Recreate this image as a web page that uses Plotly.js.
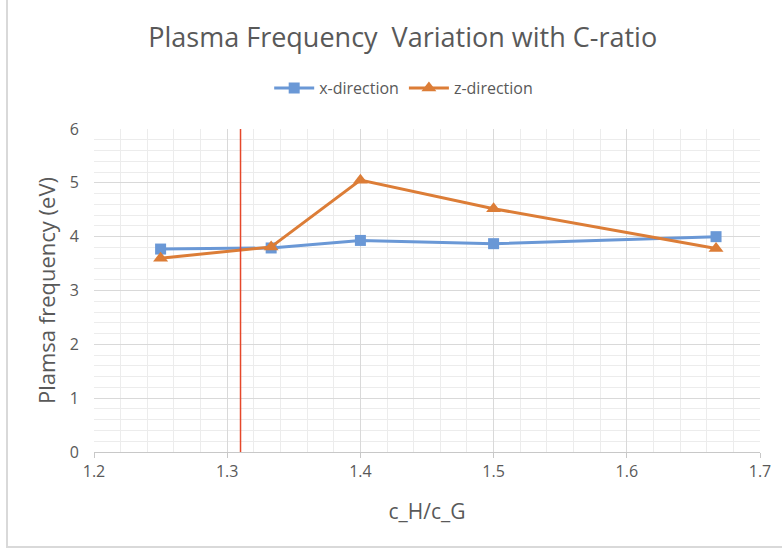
<!DOCTYPE html>
<html>
<head>
<meta charset="utf-8">
<script src="https://cdn.plot.ly/plotly-3.0.1.min.js"></script>
<style>
html,body{margin:0;padding:0;background:#fff;}
#frame{position:absolute;left:6px;top:-4px;width:790px;height:552px;border:2px solid #d9d9d9;box-sizing:border-box;pointer-events:none;z-index:5;}
#chart{position:absolute;left:0;top:0;width:782px;height:550px;}
</style>
</head>
<body>
<div id="chart"></div>
<div id="frame"></div>
<script>
const ratios = [1.25, 1.333, 1.4, 1.5, 1.667];
const xDirection = [3.77, 3.79, 3.93, 3.87, 4.0];
const zDirection = [3.6, 3.81, 5.05, 4.52, 3.78];
const markerX = [1.31, 1.31];
const markerY = [0, 6.1];
const xTicks = [1.2, 1.3, 1.4, 1.5, 1.6, 1.7];
const yTicks = [0, 1, 2, 3, 4, 5, 6];

const grey = '#595959';
const font = 'Open Sans, sans-serif';
const data = [
  {x: ratios, y: xDirection, name: 'x-direction', type: 'scatter', mode: 'lines+markers',
   line: {color: '#6A98D6', width: 3}, marker: {symbol: 'square', size: 11, color: '#6A98D6'}},
  {x: ratios, y: zDirection, name: 'z-direction', type: 'scatter', mode: 'lines+markers',
   line: {color: '#DC7D37', width: 3}, marker: {symbol: 'triangle-up', size: 13, color: '#DC7D37'}},
  {x: markerX, y: markerY, type: 'scatter', mode: 'lines', showlegend: false, hoverinfo: 'skip',
   line: {color: '#E5472A', width: 1.5}, cliponaxis: false}
];
const layout = {
  width: 782, height: 550,
  margin: {l: 94, r: 22, t: 129, b: 98},
  paper_bgcolor: '#fff', plot_bgcolor: '#fff',
  title: {text: 'Plasma Frequency  Variation with C-ratio', x: 0.515, xanchor: 'center', y: 0.932, yanchor: 'middle',
          font: {family: font, size: 27, color: grey}},
  showlegend: true,
  legend: {orientation: 'h', x: 0.465, xanchor: 'center', y: 1.127, yanchor: 'middle',
           font: {family: font, size: 16, color: grey}, itemwidth: 40},
  xaxis: {range: [1.2, 1.7], tickvals: xTicks, ticktext: xTicks.map(v => v.toFixed(1)),
          showgrid: true, gridcolor: '#d9d9d9', gridwidth: 1,
          minor: {dtick: 0.02, showgrid: true, gridcolor: '#ececec', gridwidth: 1, ticks: ''},
          showline: true, linecolor: '#c8c8c8', linewidth: 1, ticks: 'outside', ticklen: 5, tickcolor: '#c8c8c8',
          zeroline: false, tickfont: {family: font, size: 16, color: grey},
          title: {text: 'c_H/c_G', font: {family: font, size: 21, color: grey}, standoff: 23}},
  yaxis: {range: [0, 6], tickvals: yTicks, showgrid: true, gridcolor: '#d9d9d9', gridwidth: 1,
          minor: {dtick: 0.2, showgrid: true, gridcolor: '#ececec', gridwidth: 1, ticks: ''},
          showline: false, zeroline: false, ticks: '', ticklabelstandoff: 14,
          tickfont: {family: font, size: 16, color: grey},
          title: {text: 'Plamsa frequency (eV)', font: {family: font, size: 22, color: grey}, standoff: 8}}
};
Plotly.newPlot('chart', data, layout, {displayModeBar: false, staticPlot: true});
</script>
</body>
</html>
